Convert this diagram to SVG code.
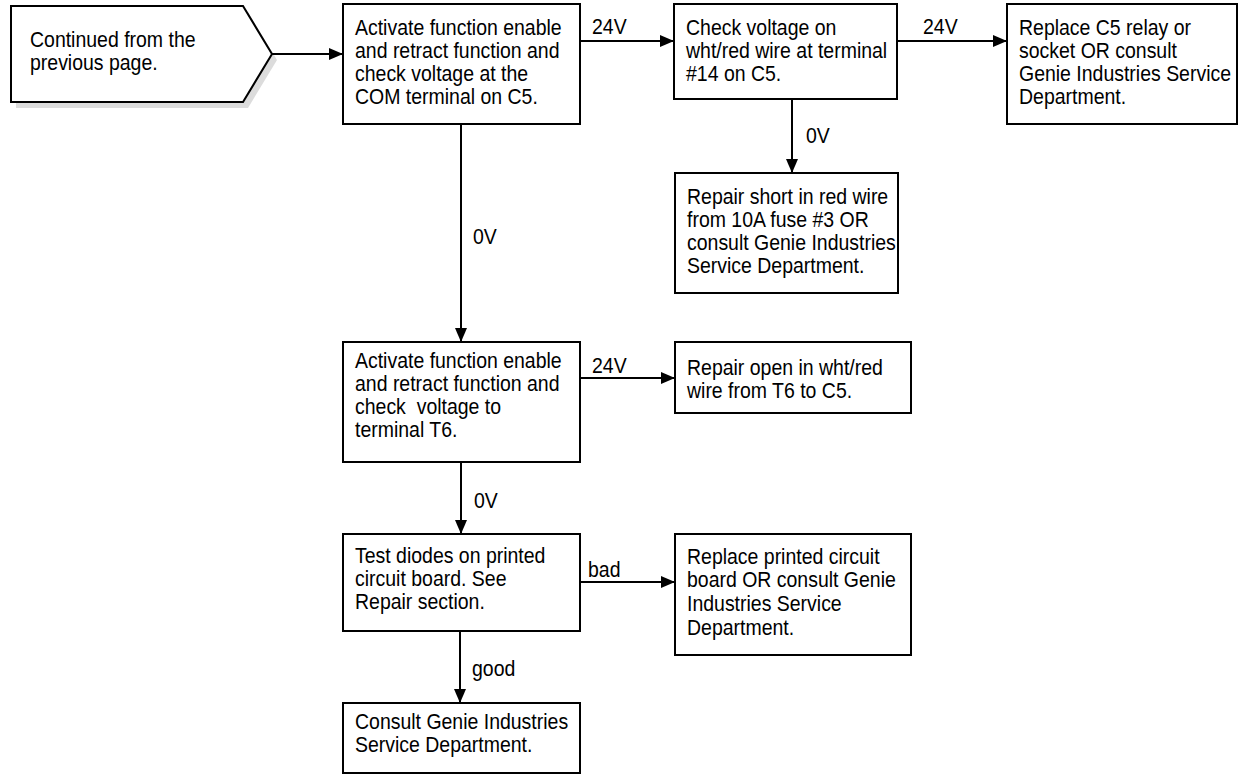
<svg xmlns="http://www.w3.org/2000/svg" width="1241" height="776" viewBox="0 0 1241 776">
  <style>
    .box { fill: #fff; stroke: #000; stroke-width: 2; }
    .shadow { fill: #dcdcdc; stroke: none; }
    .t { font-family: "Liberation Sans", Arial, Helvetica, sans-serif; font-size: 22px; fill: #000; }
    .wire { fill: none; stroke: #000; stroke-width: 2; }
  </style>
  <defs>
    <marker id="arrow" viewBox="0 0 14 12" refX="14" refY="6" markerWidth="14" markerHeight="12" markerUnits="userSpaceOnUse" orient="auto">
      <path d="M0,0 L14,6 L0,12 Z" fill="#000"/>
    </marker>
  </defs>
  <rect width="1241" height="776" fill="#fff"/>

  <!-- Text blocks use a condensed look: translate to the left margin, then squeeze horizontally -->

  <!-- Entry point: continuation from the previous page -->
  <g id="start">
    <polygon class="shadow" points="16,12 248,12 277,60 248,108 16,108"/>
    <polygon class="box" points="11,6 243,6 272,54 243,102 11,102"/>
    <text class="t" transform="translate(30,0) scale(0.885,1)"><tspan x="0" y="47">Continued from the</tspan><tspan x="0" y="70">previous page.</tspan></text>
  </g>

  <g id="check-com">
    <rect class="box" x="343" y="4" width="237" height="120"/>
    <text class="t" transform="translate(355,0) scale(0.885,1)"><tspan x="0" y="35">Activate function enable</tspan><tspan x="0" y="58">and retract function and</tspan><tspan x="0" y="81">check voltage at the</tspan><tspan x="0" y="104">COM terminal on C5.</tspan></text>
  </g>

  <g id="check-wht-red">
    <rect class="box" x="674" y="4" width="223" height="95"/>
    <text class="t" transform="translate(686,0) scale(0.885,1)"><tspan x="0" y="35">Check voltage on</tspan><tspan x="0" y="58">wht/red wire at terminal</tspan><tspan x="0" y="81">#14 on C5.</tspan></text>
  </g>

  <g id="replace-relay">
    <rect class="box" x="1007" y="4" width="230" height="120"/>
    <text class="t" transform="translate(1019,0) scale(0.885,1)"><tspan x="0" y="35">Replace C5 relay or</tspan><tspan x="0" y="58">socket OR consult</tspan><tspan x="0" y="81">Genie Industries Service</tspan><tspan x="0" y="104">Department.</tspan></text>
  </g>

  <g id="repair-short">
    <rect class="box" x="675" y="173" width="223" height="120"/>
    <text class="t" transform="translate(687,0) scale(0.885,1)"><tspan x="0" y="204">Repair short in red wire</tspan><tspan x="0" y="227">from 10A fuse #3 OR</tspan><tspan x="0" y="250">consult Genie Industries</tspan><tspan x="0" y="273">Service Department.</tspan></text>
  </g>

  <g id="check-t6">
    <rect class="box" x="343" y="342" width="237" height="120"/>
    <text class="t" transform="translate(355,0) scale(0.885,1)"><tspan x="0" y="368">Activate function enable</tspan><tspan x="0" y="391">and retract function and</tspan><tspan x="0" y="414" xml:space="preserve">check  voltage to</tspan><tspan x="0" y="437">terminal T6.</tspan></text>
  </g>

  <g id="repair-open">
    <rect class="box" x="675" y="342" width="236" height="71"/>
    <text class="t" transform="translate(687,0) scale(0.885,1)"><tspan x="0" y="375">Repair open in wht/red</tspan><tspan x="0" y="398">wire from T6 to C5.</tspan></text>
  </g>

  <g id="test-diodes">
    <rect class="box" x="343" y="534" width="237" height="97"/>
    <text class="t" transform="translate(355,0) scale(0.885,1)"><tspan x="0" y="563">Test diodes on printed</tspan><tspan x="0" y="586">circuit board. See</tspan><tspan x="0" y="609">Repair section.</tspan></text>
  </g>

  <g id="replace-board">
    <rect class="box" x="675" y="534" width="236" height="121"/>
    <text class="t" transform="translate(687,0) scale(0.885,1)"><tspan x="0" y="564">Replace printed circuit</tspan><tspan x="0" y="587">board OR consult Genie</tspan><tspan x="0" y="611">Industries Service</tspan><tspan x="0" y="635">Department.</tspan></text>
  </g>

  <g id="consult-genie">
    <rect class="box" x="343" y="703" width="237" height="70"/>
    <text class="t" transform="translate(355,0) scale(0.885,1)"><tspan x="0" y="729">Consult Genie Industries</tspan><tspan x="0" y="752">Service Department.</tspan></text>
  </g>

  <!-- Connectors and their readings -->
  <g id="connectors">
    <line class="wire" x1="272" y1="54" x2="343" y2="54" marker-end="url(#arrow)"/>
    <line class="wire" x1="580" y1="41" x2="674" y2="41" marker-end="url(#arrow)"/>
    <line class="wire" x1="897" y1="41" x2="1007" y2="41" marker-end="url(#arrow)"/>
    <line class="wire" x1="792" y1="99" x2="792" y2="173" marker-end="url(#arrow)"/>
    <line class="wire" x1="461" y1="124" x2="461" y2="342" marker-end="url(#arrow)"/>
    <line class="wire" x1="580" y1="378" x2="675" y2="378" marker-end="url(#arrow)"/>
    <line class="wire" x1="461" y1="462" x2="461" y2="534" marker-end="url(#arrow)"/>
    <line class="wire" x1="580" y1="582" x2="675" y2="582" marker-end="url(#arrow)"/>
    <line class="wire" x1="460" y1="631" x2="460" y2="703" marker-end="url(#arrow)"/>

    <text class="t" transform="translate(592,34) scale(0.885,1)">24V</text>
    <text class="t" transform="translate(923,34) scale(0.885,1)">24V</text>
    <text class="t" transform="translate(806,143) scale(0.885,1)">0V</text>
    <text class="t" transform="translate(473,244) scale(0.885,1)">0V</text>
    <text class="t" transform="translate(592,373) scale(0.885,1)">24V</text>
    <text class="t" transform="translate(474,508) scale(0.885,1)">0V</text>
    <text class="t" transform="translate(588,577) scale(0.885,1)">bad</text>
    <text class="t" transform="translate(472,676) scale(0.885,1)">good</text>
  </g>
</svg>
